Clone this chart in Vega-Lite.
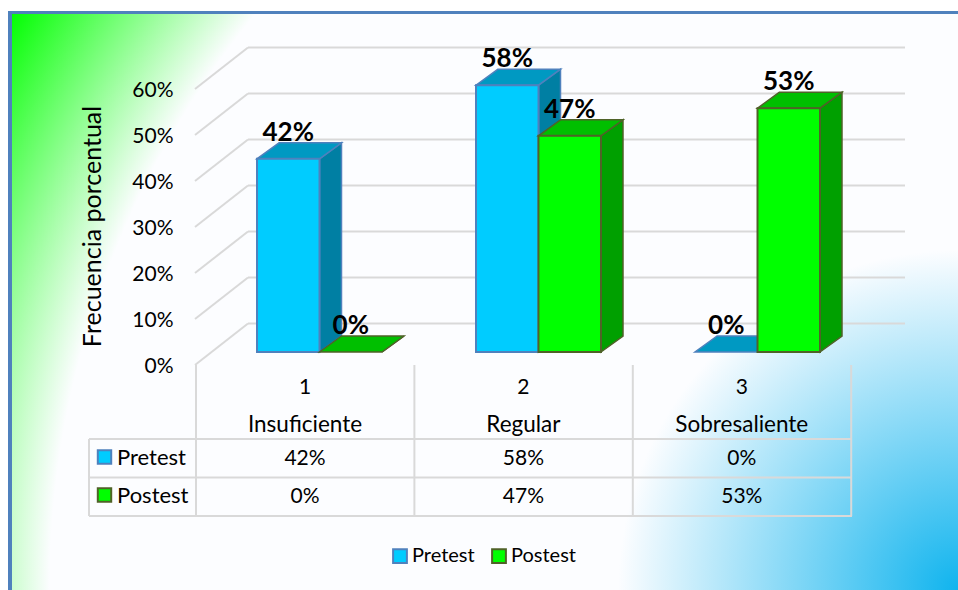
{
  "$schema": "https://vega.github.io/schema/vega-lite/v6.json",
  "width": 958,
  "height": 590,
  "padding": 0,
  "autosize": {"type": "fit", "contains": "padding"},
  "background": "#ffffff",
  "config": {
    "view": {"stroke": null},
    "font": "Lato",
    "text": {"font": "Lato"}
  },
  "datasets": {
    "scores": [
      {"num": 1, "level": "Insuficiente", "series": "Pretest", "value": 42},
      {"num": 1, "level": "Insuficiente", "series": "Postest", "value": 0},
      {"num": 2, "level": "Regular", "series": "Pretest", "value": 58},
      {"num": 2, "level": "Regular", "series": "Postest", "value": 47},
      {"num": 3, "level": "Sobresaliente", "series": "Pretest", "value": 0},
      {"num": 3, "level": "Sobresaliente", "series": "Postest", "value": 53}
    ],
    "ticks": [{"tick": 0}, {"tick": 10}, {"tick": 20}, {"tick": 30}, {"tick": 40}, {"tick": 50}, {"tick": 60}],
    "columns": [{"col": 0}, {"col": 1}, {"col": 2}, {"col": 3}],
    "rows": [{"row": 0}, {"row": 1}, {"row": 2}],
    "panel": [{"part": "panel"}]
  },
  "encoding": {
    "x": {"field": "x", "type": "quantitative", "stack": null, "scale": {"domain": [0, 958], "nice": false, "zero": false}, "axis": null},
    "y": {
      "field": "y",
      "type": "quantitative",
      "stack": null,
      "scale": {"domain": [-48.913, 79.348], "nice": false, "zero": false},
      "axis": {
        "zindex": 1,
        "values": [0, 10, 20, 30, 40, 50, 60],
        "labelExpr": "datum.value + '%'",
        "offset": -173,
        "grid": false,
        "domain": false,
        "ticks": false,
        "labelPadding": 0,
        "labelOffset": 1,
        "labelFont": "Lato",
        "labelFontSize": 21,
        "labelColor": "#000000",
        "title": "Frecuencia porcentual",
        "titleFont": "Lato",
        "titleFontSize": 25,
        "titleFontWeight": "normal",
        "titleColor": "#000000",
        "titleX": -81,
        "titleY": 226,
        "titleBaseline": "middle"
      }
    }
  },
  "layer": [
    {
      "data": {"name": "panel"},
      "transform": [
        {"calculate": "9", "as": "x"}, {"calculate": "958", "as": "xEnd"},
        {"calculate": "(365 - 11) / 4.6", "as": "y"}, {"calculate": "-48.913", "as": "yEnd"}
      ],
      "mark": {
        "type": "rect",
        "fill": {
          "gradient": "radial", "x1": 1, "y1": 0.805, "r1": 0, "x2": 1, "y2": 0.805, "r2": 1.17,
          "stops": [
            {"offset": 0, "color": "#10b4ee"},
            {"offset": 0.306, "color": "#fcfdff"},
            {"offset": 0.818, "color": "#fcfdff"},
            {"offset": 1, "color": "#00ff00"}
          ]
        }
      },
      "encoding": {"x2": {"field": "xEnd"}, "y2": {"field": "yEnd"}}
    },
    {
      "data": {"name": "panel"},
      "transform": [
        {"calculate": "8", "as": "x"}, {"calculate": "12", "as": "xEnd"},
        {"calculate": "(365 - 11) / 4.6", "as": "y"}, {"calculate": "-48.913", "as": "yEnd"}
      ],
      "mark": {"type": "rect", "fill": "#4f81bd"},
      "encoding": {"x2": {"field": "xEnd"}, "y2": {"field": "yEnd"}}
    },
    {
      "data": {"name": "panel"},
      "transform": [
        {"calculate": "8", "as": "x"}, {"calculate": "958", "as": "xEnd"},
        {"calculate": "(365 - 11) / 4.6", "as": "y"}, {"calculate": "(365 - 14) / 4.6", "as": "yEnd"}
      ],
      "mark": {"type": "rect", "fill": "#4f81bd"},
      "encoding": {"x2": {"field": "xEnd"}, "y2": {"field": "yEnd"}}
    },
    {
      "data": {"name": "ticks"},
      "transform": [
        {"calculate": "195", "as": "x"}, {"calculate": "248", "as": "xEnd"},
        {"calculate": "datum.tick", "as": "y"}, {"calculate": "datum.tick + 9.02", "as": "yEnd"}
      ],
      "mark": {"type": "rule", "color": "#d9d9d9", "strokeWidth": 2},
      "encoding": {"x2": {"field": "xEnd"}, "y2": {"field": "yEnd"}}
    },
    {
      "data": {"name": "ticks"},
      "transform": [
        {"calculate": "248", "as": "x"}, {"calculate": "905", "as": "xEnd"},
        {"calculate": "datum.tick + 9.02", "as": "y"}
      ],
      "mark": {"type": "rule", "color": "#d9d9d9", "strokeWidth": 2},
      "encoding": {"x2": {"field": "xEnd"}}
    },
    {
      "data": {"name": "columns"},
      "transform": [
        {"calculate": "196 + 218.4 * datum.col", "as": "x"},
        {"calculate": "0", "as": "y"},
        {"calculate": "(365 - 516) / 4.6", "as": "yEnd"}
      ],
      "mark": {"type": "rule", "color": "#d9d9d9", "strokeWidth": 2},
      "encoding": {"y2": {"field": "yEnd"}}
    },
    {
      "data": {"name": "rows"},
      "transform": [
        {"calculate": "89", "as": "x"}, {"calculate": "852", "as": "xEnd"},
        {"calculate": "(365 - 439 - 38.5 * datum.row) / 4.6", "as": "y"}
      ],
      "mark": {"type": "rule", "color": "#d9d9d9", "strokeWidth": 2},
      "encoding": {"x2": {"field": "xEnd"}}
    },
    {
      "data": {"name": "rows"},
      "transform": [
        {"filter": "datum.row === 0"},
        {"calculate": "89", "as": "x"},
        {"calculate": "(365 - 439) / 4.6", "as": "y"},
        {"calculate": "(365 - 516) / 4.6", "as": "yEnd"}
      ],
      "mark": {"type": "rule", "color": "#d9d9d9", "strokeWidth": 2},
      "encoding": {"y2": {"field": "yEnd"}}
    },
    {
      "data": {"name": "scores"},
      "transform": [
        {"filter": "datum.series === 'Pretest'"},
        {"calculate": "[0, 1]", "as": "t"},
        {"flatten": ["t"]},
        {"calculate": "257 + 219 * (datum.num - 1) + 62.5 + 22 * datum.t", "as": "x"},
        {"calculate": "2.826 + 3.478 * datum.t", "as": "y"},
        {"calculate": "datum.value + 2.826 + 3.478 * datum.t", "as": "yEnd"}
      ],
      "mark": {"type": "area", "orient": "vertical", "fill": "#007fa3", "stroke": "#4f81bd", "strokeWidth": 1.5},
      "encoding": {"y2": {"field": "yEnd"}, "detail": {"field": "num"}}
    },
    {
      "data": {"name": "scores"},
      "transform": [
        {"filter": "datum.series === 'Pretest'"},
        {"calculate": "[0, 1]", "as": "t"},
        {"flatten": ["t"]},
        {"calculate": "257 + 219 * (datum.num - 1) + 22 * datum.t", "as": "x"},
        {"calculate": "datum.x + 62.5", "as": "xEnd"},
        {"calculate": "datum.value + 2.826 + 3.478 * datum.t", "as": "y"}
      ],
      "mark": {"type": "area", "orient": "horizontal", "fill": "#0099c2", "stroke": "#4f81bd", "strokeWidth": 1.5},
      "encoding": {"x2": {"field": "xEnd"}, "detail": {"field": "num"}}
    },
    {
      "data": {"name": "scores"},
      "transform": [
        {"filter": "datum.series === 'Pretest' && datum.value > 0"},
        {"calculate": "257 + 219 * (datum.num - 1)", "as": "x"},
        {"calculate": "datum.x + 62.5", "as": "xEnd"},
        {"calculate": "datum.value + 2.826", "as": "y"},
        {"calculate": "2.826", "as": "yEnd"}
      ],
      "mark": {"type": "rect", "strokeWidth": 2},
      "encoding": {
        "x2": {"field": "xEnd"},
        "y2": {"field": "yEnd"},
        "fill": {"field": "series", "type": "nominal", "scale": {"domain": ["Pretest", "Postest"], "range": ["#00ccff", "#00ff00"]},
          "legend": {"orient": "none", "legendX": 390, "legendY": 546, "direction": "horizontal", "title": null, "symbolType": "square", "symbolSize": 190, "symbolStrokeWidth": 2, "labelFont": "Lato", "labelFontSize": 20, "labelColor": "#000000", "labelOffset": 2, "columnPadding": 13, "symbolOpacity": 1}},
        "stroke": {"field": "series", "type": "nominal", "scale": {"domain": ["Pretest", "Postest"], "range": ["#4f81bd", "#4f6228"]},
          "legend": {"orient": "none", "legendX": 390, "legendY": 546, "direction": "horizontal", "title": null, "symbolType": "square", "symbolSize": 190, "symbolStrokeWidth": 2, "labelFont": "Lato", "labelFontSize": 20, "labelColor": "#000000", "labelOffset": 2, "columnPadding": 13, "symbolOpacity": 1}}
      }
    },
    {
      "data": {"name": "scores"},
      "transform": [
        {"filter": "datum.series === 'Postest'"},
        {"calculate": "[0, 1]", "as": "t"},
        {"flatten": ["t"]},
        {"calculate": "257 + 219 * (datum.num - 1) + 125 + 22 * datum.t", "as": "x"},
        {"calculate": "2.826 + 3.478 * datum.t", "as": "y"},
        {"calculate": "datum.value + 2.826 + 3.478 * datum.t", "as": "yEnd"}
      ],
      "mark": {"type": "area", "orient": "vertical", "fill": "#00a000", "stroke": "#4f6228", "strokeWidth": 1.5},
      "encoding": {"y2": {"field": "yEnd"}, "detail": {"field": "num"}}
    },
    {
      "data": {"name": "scores"},
      "transform": [
        {"filter": "datum.series === 'Postest'"},
        {"calculate": "[0, 1]", "as": "t"},
        {"flatten": ["t"]},
        {"calculate": "257 + 219 * (datum.num - 1) + 62.5 + 22 * datum.t", "as": "x"},
        {"calculate": "datum.x + 62.5", "as": "xEnd"},
        {"calculate": "datum.value + 2.826 + 3.478 * datum.t", "as": "y"}
      ],
      "mark": {"type": "area", "orient": "horizontal", "fill": "#00bf00", "stroke": "#4f6228", "strokeWidth": 1.5},
      "encoding": {"x2": {"field": "xEnd"}, "detail": {"field": "num"}}
    },
    {
      "data": {"name": "scores"},
      "transform": [
        {"filter": "datum.series === 'Postest' && datum.value > 0"},
        {"calculate": "257 + 219 * (datum.num - 1) + 62.5", "as": "x"},
        {"calculate": "datum.x + 62.5", "as": "xEnd"},
        {"calculate": "datum.value + 2.826", "as": "y"},
        {"calculate": "2.826", "as": "yEnd"}
      ],
      "mark": {"type": "rect", "strokeWidth": 2},
      "encoding": {
        "x2": {"field": "xEnd"},
        "y2": {"field": "yEnd"},
        "fill": {"field": "series", "type": "nominal"},
        "stroke": {"field": "series", "type": "nominal"}
      }
    },
    {
      "data": {"name": "scores"},
      "transform": [
        {"calculate": "datum.value + '%'", "as": "label"},
        {"calculate": "257 + 219 * (datum.num - 1) + (datum.series === 'Postest' ? 62.5 : 0) + 31.25", "as": "x"},
        {"calculate": "datum.value + 2.826 + 5.7", "as": "y"}
      ],
      "mark": {"type": "text", "font": "Lato", "fontSize": 26, "fontWeight": "bold", "color": "#000000", "align": "center", "baseline": "middle"},
      "encoding": {"text": {"field": "label"}}
    },
    {
      "data": {"name": "scores"},
      "transform": [
        {"calculate": "datum.value + '%'", "as": "label"},
        {"calculate": "305 + 218.4 * (datum.num - 1)", "as": "x"},
        {"calculate": "(365 - (datum.series === 'Pretest' ? 459 : 497)) / 4.6", "as": "y"}
      ],
      "mark": {"type": "text", "font": "Lato", "fontSize": 21, "color": "#000000", "align": "center", "baseline": "middle"},
      "encoding": {"text": {"field": "label"}}
    },
    {
      "data": {"name": "scores"},
      "transform": [
        {"filter": "datum.series === 'Pretest'"},
        {"calculate": "305 + 218.4 * (datum.num - 1)", "as": "x"},
        {"calculate": "(365 - 388) / 4.6", "as": "y"},
        {"calculate": "'' + datum.num", "as": "label"}
      ],
      "mark": {"type": "text", "font": "Lato", "fontSize": 21, "color": "#000000", "align": "center", "baseline": "middle"},
      "encoding": {"text": {"field": "label"}}
    },
    {
      "data": {"name": "scores"},
      "transform": [
        {"filter": "datum.series === 'Pretest'"},
        {"calculate": "305 + 218.4 * (datum.num - 1)", "as": "x"},
        {"calculate": "(365 - 425) / 4.6", "as": "y"}
      ],
      "mark": {"type": "text", "font": "Lato", "fontSize": 22.5, "color": "#000000", "align": "center", "baseline": "middle"},
      "encoding": {"text": {"field": "level"}}
    },
    {
      "data": {"name": "scores"},
      "transform": [
        {"filter": "datum.num === 1"},
        {"calculate": "104.5", "as": "x"},
        {"calculate": "(365 - (datum.series === 'Pretest' ? 457 : 495)) / 4.6", "as": "y"}
      ],
      "mark": {"type": "point", "shape": "square", "filled": true, "size": 180, "strokeWidth": 2, "opacity": 1},
      "encoding": {
        "fill": {"field": "series", "type": "nominal"},
        "stroke": {"field": "series", "type": "nominal"}
      }
    },
    {
      "data": {"name": "scores"},
      "transform": [
        {"filter": "datum.num === 1"},
        {"calculate": "117", "as": "x"},
        {"calculate": "(365 - (datum.series === 'Pretest' ? 458 : 496)) / 4.6", "as": "y"}
      ],
      "mark": {"type": "text", "font": "Lato", "fontSize": 22, "color": "#000000", "align": "left", "baseline": "middle"},
      "encoding": {"text": {"field": "series"}}
    }
  ]
}
